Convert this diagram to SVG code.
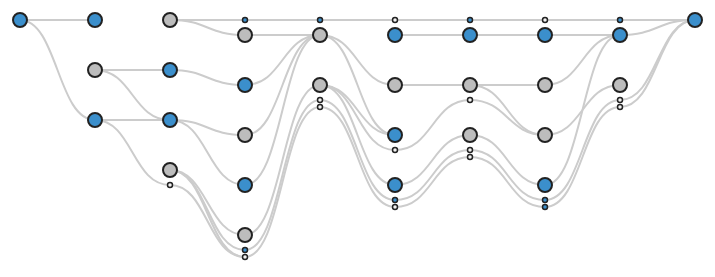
<svg xmlns="http://www.w3.org/2000/svg" width="715" height="277" viewBox="0 0 715 277">
  <style>
    .link { fill: none; stroke: #cccccc; stroke-width: 2; }
    .node { stroke: #222222; stroke-width: 2; }
    .big { }
    .small { stroke-width: 1.5; }
    .blue { fill: #3b8fcc; }
    .gray { fill: #bdbdbd; }
    .white { fill: #f2f2f2; }
  </style>
  <rect width="715" height="277" fill="#ffffff"/>
  <g id="links">
    <!-- layer 0 to 1 -->
    <path class="link" d="M20,20 C57.5,20 57.5,20 95,20"/>
    <path class="link" d="M20,20 C57.5,20 57.5,120 95,120"/>
    <!-- layer 1 to 2 -->
    <path class="link" d="M95,70 C132.5,70 132.5,70 170,70"/>
    <path class="link" d="M95,70 C132.5,70 132.5,120 170,120"/>
    <path class="link" d="M95,120 C132.5,120 132.5,120 170,120"/>
    <path class="link" d="M95,120 C132.5,120 132.5,185 170,185"/>
    <!-- layer 2 to 3 -->
    <path class="link" d="M170,20 C207.5,20 207.5,20 245,20"/>
    <path class="link" d="M170,20 C207.5,20 207.5,35 245,35"/>
    <path class="link" d="M170,70 C207.5,70 207.5,85 245,85"/>
    <path class="link" d="M170,120 C207.5,120 207.5,135 245,135"/>
    <path class="link" d="M170,120 C207.5,120 207.5,185 245,185"/>
    <path class="link" d="M170,170 C207.5,170 207.5,235 245,235"/>
    <path class="link" d="M170,170 C207.5,170 207.5,250 245,250"/>
    <path class="link" d="M170,170 C207.5,170 207.5,257 245,257"/>
    <path class="link" d="M170,185 C207.5,185 207.5,257 245,257"/>
    <!-- layer 3 to 4 -->
    <path class="link" d="M245,20 C282.5,20 282.5,20 320,20"/>
    <path class="link" d="M245,35 C282.5,35 282.5,35 320,35"/>
    <path class="link" d="M245,85 C282.5,85 282.5,35 320,35"/>
    <path class="link" d="M245,135 C282.5,135 282.5,35 320,35"/>
    <path class="link" d="M245,185 C282.5,185 282.5,35 320,35"/>
    <path class="link" d="M245,235 C282.5,235 282.5,85 320,85"/>
    <path class="link" d="M245,250 C282.5,250 282.5,100 320,100"/>
    <path class="link" d="M245,257 C282.5,257 282.5,107 320,107"/>
    <!-- layer 4 to 5 -->
    <path class="link" d="M320,20 C357.5,20 357.5,20 395,20"/>
    <path class="link" d="M320,35 C357.5,35 357.5,85 395,85"/>
    <path class="link" d="M320,35 C357.5,35 357.5,135 395,135"/>
    <path class="link" d="M320,85 C357.5,85 357.5,135 395,135"/>
    <path class="link" d="M320,85 C357.5,85 357.5,150 395,150"/>
    <path class="link" d="M320,85 C357.5,85 357.5,185 395,185"/>
    <path class="link" d="M320,100 C357.5,100 357.5,200 395,200"/>
    <path class="link" d="M320,107 C357.5,107 357.5,207 395,207"/>
    <!-- layer 5 to 6 -->
    <path class="link" d="M395,20 C432.5,20 432.5,20 470,20"/>
    <path class="link" d="M395,35 C432.5,35 432.5,35 470,35"/>
    <path class="link" d="M395,85 C432.5,85 432.5,85 470,85"/>
    <path class="link" d="M395,150 C432.5,150 432.5,100 470,100"/>
    <path class="link" d="M395,185 C432.5,185 432.5,135 470,135"/>
    <path class="link" d="M395,200 C432.5,200 432.5,150 470,150"/>
    <path class="link" d="M395,207 C432.5,207 432.5,157 470,157"/>
    <!-- layer 6 to 7 -->
    <path class="link" d="M470,20 C507.5,20 507.5,20 545,20"/>
    <path class="link" d="M470,35 C507.5,35 507.5,35 545,35"/>
    <path class="link" d="M470,85 C507.5,85 507.5,85 545,85"/>
    <path class="link" d="M470,85 C507.5,85 507.5,135 545,135"/>
    <path class="link" d="M470,100 C507.5,100 507.5,135 545,135"/>
    <path class="link" d="M470,135 C507.5,135 507.5,185 545,185"/>
    <path class="link" d="M470,150 C507.5,150 507.5,200 545,200"/>
    <path class="link" d="M470,157 C507.5,157 507.5,207 545,207"/>
    <!-- layer 7 to 8 -->
    <path class="link" d="M545,20 C582.5,20 582.5,20 620,20"/>
    <path class="link" d="M545,35 C582.5,35 582.5,35 620,35"/>
    <path class="link" d="M545,85 C582.5,85 582.5,35 620,35"/>
    <path class="link" d="M545,135 C582.5,135 582.5,85 620,85"/>
    <path class="link" d="M545,185 C582.5,185 582.5,35 620,35"/>
    <path class="link" d="M545,200 C582.5,200 582.5,100 620,100"/>
    <path class="link" d="M545,207 C582.5,207 582.5,107 620,107"/>
    <!-- layer 8 to 9 -->
    <path class="link" d="M620,20 C657.5,20 657.5,20 695,20"/>
    <path class="link" d="M620,35 C657.5,35 657.5,20 695,20"/>
    <path class="link" d="M620,100 C657.5,100 657.5,20 695,20"/>
    <path class="link" d="M620,107 C657.5,107 657.5,20 695,20"/>
  </g>
  <!-- layer 0 -->
  <g id="n0-0"><circle class="node blue" cx="20" cy="20" r="7"/></g>
  <!-- layer 1 -->
  <g id="n1-0"><circle class="node blue" cx="95" cy="20" r="7"/></g>
  <g id="n1-1"><circle class="node gray" cx="95" cy="70" r="7"/></g>
  <g id="n1-2"><circle class="node blue" cx="95" cy="120" r="7"/></g>
  <!-- layer 2 -->
  <g id="n2-0"><circle class="node gray" cx="170" cy="20" r="7"/></g>
  <g id="n2-1"><circle class="node blue" cx="170" cy="70" r="7"/></g>
  <g id="n2-2"><circle class="node blue" cx="170" cy="120" r="7"/></g>
  <g id="n2-3"><circle class="node gray" cx="170" cy="170" r="7"/></g>
  <g id="n2-4"><circle class="node small white" cx="170" cy="185" r="2.5"/></g>
  <!-- layer 3 -->
  <g id="n3-0"><circle class="node small blue" cx="245" cy="20" r="2.5"/></g>
  <g id="n3-1"><circle class="node gray" cx="245" cy="35" r="7"/></g>
  <g id="n3-2"><circle class="node blue" cx="245" cy="85" r="7"/></g>
  <g id="n3-3"><circle class="node gray" cx="245" cy="135" r="7"/></g>
  <g id="n3-4"><circle class="node blue" cx="245" cy="185" r="7"/></g>
  <g id="n3-5"><circle class="node gray" cx="245" cy="235" r="7"/></g>
  <g id="n3-6"><circle class="node small blue" cx="245" cy="250" r="2.5"/></g>
  <g id="n3-7"><circle class="node small white" cx="245" cy="257" r="2.5"/></g>
  <!-- layer 4 -->
  <g id="n4-0"><circle class="node small blue" cx="320" cy="20" r="2.5"/></g>
  <g id="n4-1"><circle class="node gray" cx="320" cy="35" r="7"/></g>
  <g id="n4-2"><circle class="node gray" cx="320" cy="85" r="7"/></g>
  <g id="n4-3"><circle class="node small white" cx="320" cy="100" r="2.5"/></g>
  <g id="n4-4"><circle class="node small white" cx="320" cy="107" r="2.5"/></g>
  <!-- layer 5 -->
  <g id="n5-0"><circle class="node small white" cx="395" cy="20" r="2.5"/></g>
  <g id="n5-1"><circle class="node blue" cx="395" cy="35" r="7"/></g>
  <g id="n5-2"><circle class="node gray" cx="395" cy="85" r="7"/></g>
  <g id="n5-3"><circle class="node blue" cx="395" cy="135" r="7"/></g>
  <g id="n5-4"><circle class="node small white" cx="395" cy="150" r="2.5"/></g>
  <g id="n5-5"><circle class="node blue" cx="395" cy="185" r="7"/></g>
  <g id="n5-6"><circle class="node small blue" cx="395" cy="200" r="2.5"/></g>
  <g id="n5-7"><circle class="node small white" cx="395" cy="207" r="2.5"/></g>
  <!-- layer 6 -->
  <g id="n6-0"><circle class="node small blue" cx="470" cy="20" r="2.5"/></g>
  <g id="n6-1"><circle class="node blue" cx="470" cy="35" r="7"/></g>
  <g id="n6-2"><circle class="node gray" cx="470" cy="85" r="7"/></g>
  <g id="n6-3"><circle class="node small white" cx="470" cy="100" r="2.5"/></g>
  <g id="n6-4"><circle class="node gray" cx="470" cy="135" r="7"/></g>
  <g id="n6-5"><circle class="node small white" cx="470" cy="150" r="2.5"/></g>
  <g id="n6-6"><circle class="node small white" cx="470" cy="157" r="2.5"/></g>
  <!-- layer 7 -->
  <g id="n7-0"><circle class="node small white" cx="545" cy="20" r="2.5"/></g>
  <g id="n7-1"><circle class="node blue" cx="545" cy="35" r="7"/></g>
  <g id="n7-2"><circle class="node gray" cx="545" cy="85" r="7"/></g>
  <g id="n7-3"><circle class="node gray" cx="545" cy="135" r="7"/></g>
  <g id="n7-4"><circle class="node blue" cx="545" cy="185" r="7"/></g>
  <g id="n7-5"><circle class="node small blue" cx="545" cy="200" r="2.5"/></g>
  <g id="n7-6"><circle class="node small blue" cx="545" cy="207" r="2.5"/></g>
  <!-- layer 8 -->
  <g id="n8-0"><circle class="node small blue" cx="620" cy="20" r="2.5"/></g>
  <g id="n8-1"><circle class="node blue" cx="620" cy="35" r="7"/></g>
  <g id="n8-2"><circle class="node gray" cx="620" cy="85" r="7"/></g>
  <g id="n8-3"><circle class="node small white" cx="620" cy="100" r="2.5"/></g>
  <g id="n8-4"><circle class="node small white" cx="620" cy="107" r="2.5"/></g>
  <!-- layer 9 -->
  <g id="n9-0"><circle class="node blue" cx="695" cy="20" r="7"/></g>
</svg>
